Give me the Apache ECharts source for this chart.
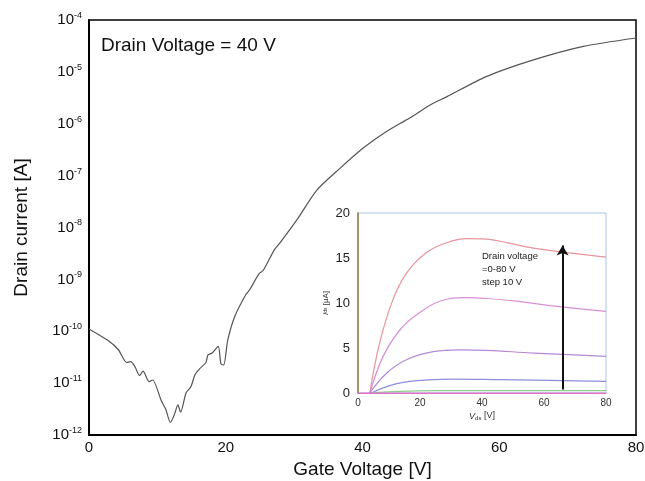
<!DOCTYPE html>
<html lang="en">
<head>
    <meta charset="UTF-8">
    <script src="https://cdn.jsdelivr.net/npm/echarts@6/dist/echarts.min.js"></script>
    <title>Drain current vs gate voltage</title>
    <style>
        html, body { margin: 0; padding: 0; background: #fff; }
    </style>
</head>
<body>
<div id="main" style="width: 645px;height:481px;"></div>
<script type="text/javascript">
    // transfer curve, Vd = 40 V
    var gateV = [0, 2.8, 4.3, 5.5, 6.1, 6.7, 7.4, 7.9, 8.8, 9.3, 10.6, 11.2, 11.9, 12.5, 13.0, 13.4,
        14.2, 14.9, 15.5, 16.2, 17.1, 17.4, 18.0, 18.9, 19.3, 19.7, 20.3, 21.3, 22.9, 23.5, 24.9, 25.5,
        27.1, 27.9, 30.4, 33.3, 36.7, 40.1, 43.5, 46.9, 49.9, 52.3, 58.1, 65.0, 72.3, 80];
    var drainI = [1.11e-10, 6.6e-11, 4.4e-11, 2.5e-11, 2.6e-11, 2.1e-11, 1.4e-11, 1.7e-11, 1.07e-11, 1.15e-11,
        4.5e-12, 3.2e-12, 1.75e-12, 2.5e-12, 3.8e-12, 2.75e-12,
        6.5e-12, 8.5e-12, 1.45e-11, 1.9e-11, 2.5e-11, 3.5e-11, 3.8e-11, 5.1e-11, 2.35e-11, 2.25e-11,
        6.8e-11, 1.9e-10, 5.0e-10, 6.3e-10, 1.3e-9, 1.5e-9,
        3.7e-9, 5.0e-9, 1.4e-8, 5.2e-8, 1.38e-7, 3.4e-7, 7.1e-7, 1.29e-6, 2.3e-6, 3.3e-6, 8.1e-6, 1.7e-5, 3.1e-5, 4.5e-5];
    var gateTicks = [0, 20, 40, 60, 80];

    // inset: output curves, Vd = 0-80 V step 10 V
    var vdsTop = [3.8, 7.0, 11.3, 15.6, 22.1, 28.6, 35.0, 41.5, 48.0, 56.6, 67.4, 80];
    var idsTop = [0, 5.6, 10.4, 13.3, 15.6, 16.7, 17.15, 17.1, 16.7, 16.1, 15.6, 15.1];
    var vds2 = [3.8, 8.1, 13.5, 18.9, 26.4, 35.0, 41.5, 51.2, 62.0, 80];
    var ids2 = [0, 4.07, 7.0, 8.7, 10.2, 10.6, 10.5, 10.2, 9.7, 9.07];
    var vds3 = [3.8, 9.2, 15.6, 24.3, 32.9, 41.5, 56.6, 80];
    var ids3 = [0, 2.2, 3.7, 4.6, 4.8, 4.74, 4.44, 4.07];
    var vds4 = [4.3, 11.3, 18.9, 29.6, 45.8, 80];
    var ids4 = [0, 0.93, 1.37, 1.55, 1.48, 1.3];
    var vds5 = [4.3, 13.5, 25, 80];
    var ids5 = [0, 0.18, 0.26, 0.26];
    var vds6 = [0, 80];
    var ids6 = [0, 0];
    var insetColors = ['#e8949c', '#d890d4', '#b68ad6', '#8e8ede', '#8fd08f', '#e070c8'];

    function pairs(xs, ys) {
        var out = [];
        for (var i = 0; i < xs.length; i++) {
            out.push([xs[i], ys[i]]);
        }
        return out;
    }

    var myChart = echarts.init(document.getElementById('main'));
    var fontFam = 'Liberation Sans, Arial, sans-serif';

    var insetX = [vdsTop, vds2, vds3, vds4, vds5, vds6];
    var insetY = [idsTop, ids2, ids3, ids4, ids5, ids6];
    var insetSeries = [];
    for (var k = 0; k < insetX.length; k++) {
        insetSeries.push({
            type: 'line',
            xAxisIndex: 1,
            yAxisIndex: 1,
            smooth: 0.4,
            symbol: 'none',
            silent: true,
            lineStyle: {color: insetColors[k], width: 1.2},
            data: pairs(insetX[k], insetY[k])
        });
    }
    // arrow
    insetSeries.push({
        type: 'line',
        xAxisIndex: 1,
        yAxisIndex: 1,
        symbol: 'none',
        data: [],
        markLine: {
            silent: true,
            symbol: ['none', 'arrow'],
            symbolSize: [9, 10],
            label: {show: false},
            lineStyle: {color: '#111', width: 2, type: 'solid'},
            data: [[{coord: [66, 0.4]}, {coord: [66, 16.4]}]]
        }
    });

    var option = {
        animation: false,
        textStyle: {fontFamily: fontFam},
        grid: [
            {left: 89, right: 9, top: 20, bottom: 46, outerBoundsMode: 'none', containLabel: false,
                show: true, borderColor: '#000', borderWidth: 1.5},
            {left: 358, top: 213, width: 248, height: 180, outerBoundsMode: 'none', containLabel: false,
                show: true, borderColor: '#a9c6e6', borderWidth: 1, backgroundColor: '#fff'}
        ],
        xAxis: [
            {
                type: 'value', gridIndex: 0, min: 0, max: 80, interval: 20,
                name: 'Gate Voltage [V]', nameLocation: 'middle', nameGap: 24,
                nameTextStyle: {fontSize: 19, color: '#111'},
                axisLine: {lineStyle: {color: '#000', width: 2}},
                axisTick: {show: false},
                splitLine: {show: false},
                axisLabel: {fontSize: 15, color: '#111', margin: 5,
                    formatter: function (v) { return gateTicks.indexOf(v) >= 0 ? v : ''; }}
            },
            {
                type: 'value', gridIndex: 1, min: 0, max: 80, interval: 20,
                name: '{i|V}{s|ds} [V]', nameLocation: 'middle', nameGap: 18,
                nameTextStyle: {fontSize: 9, color: '#333',
                    rich: {i: {fontStyle: 'italic', fontSize: 9}, s: {fontSize: 6, verticalAlign: 'bottom', padding: [4, 0, 0, 0]}}},
                axisLine: {lineStyle: {color: '#e070c8', width: 1}},
                axisTick: {show: false},
                splitLine: {show: false},
                axisLabel: {fontSize: 10, color: '#333', margin: 5}
            }
        ],
        yAxis: [
            {
                type: 'log', gridIndex: 0, logBase: 10, min: 1e-12, max: 1e-4,
                name: 'Drain current [A]', nameLocation: 'middle', nameGap: 58,
                nameTextStyle: {fontSize: 19, color: '#111'},
                axisLine: {show: true, lineStyle: {color: '#000', width: 2}},
                axisTick: {show: false},
                splitLine: {show: false},
                axisLabel: {
                    color: '#111', margin: 7,
                    formatter: function (v) {
                        var e = Math.round(Math.log(v) / Math.LN10);
                        return '{b|10}{e|' + e + '}';
                    },
                    rich: {
                        b: {fontSize: 15, color: '#111', fontFamily: fontFam},
                        e: {fontSize: 9, color: '#111', fontFamily: fontFam, verticalAlign: 'top', padding: [0, 0, 9, 0]}
                    }
                }
            },
            {
                type: 'value', gridIndex: 1, min: 0, max: 20, interval: 5,
                name: '{i|I}{s|ds} [μA]', nameLocation: 'middle', nameGap: 28,
                nameTextStyle: {fontSize: 8, color: '#333',
                    rich: {i: {fontStyle: 'italic', fontSize: 8}, s: {fontSize: 5}}},
                axisLine: {show: true, lineStyle: {color: '#8c7f3e', width: 1.5}},
                axisTick: {show: false},
                splitLine: {show: false},
                axisLabel: {fontSize: 13, color: '#222', margin: 8}
            }
        ],
        graphic: [
            {type: 'text', left: 101, top: 36,
                style: {text: 'Drain Voltage = 40 V', fontSize: 19, fill: '#111', fontFamily: fontFam}},
            {type: 'text', left: 482, top: 250,
                style: {text: 'Drain voltage\n=0-80 V\nstep 10 V', fontSize: 9.5, lineHeight: 13, fill: '#222', fontFamily: fontFam}}
        ],
        series: [
            {
                type: 'line',
                xAxisIndex: 0,
                yAxisIndex: 0,
                symbol: 'none',
                smooth: 0.25,
                silent: true,
                lineStyle: {color: '#555', width: 1.2},
                data: pairs(gateV, drainI)
            }
        ].concat(insetSeries)
    };
    myChart.setOption(option);
</script>
</body>
</html>
